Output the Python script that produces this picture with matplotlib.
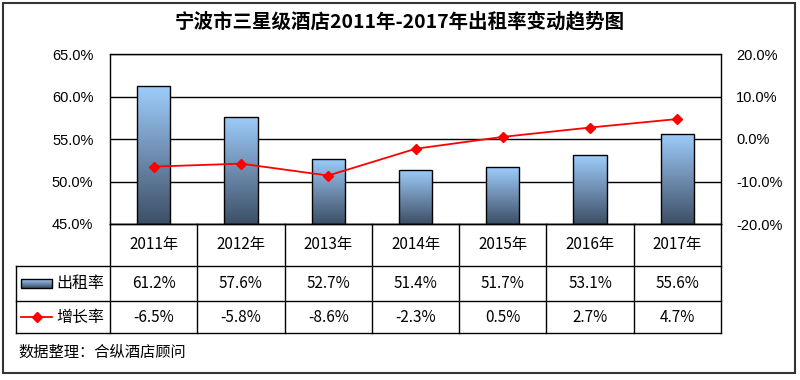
import matplotlib
matplotlib.use("Agg")
import matplotlib.pyplot as plt
import numpy as np
from matplotlib.patches import Rectangle
from matplotlib.colors import LinearSegmentedColormap

plt.rcParams['font.family'] = ['Noto Sans CJK SC', 'DejaVu Sans']

title = "宁波市三星级酒店2011年-2017年出租率变动趋势图"
categories = ["2011年", "2012年", "2013年", "2014年", "2015年", "2016年", "2017年"]
occupancy = [61.2, 57.6, 52.7, 51.4, 51.7, 53.1, 55.6]
growth = [-6.5, -5.8, -8.6, -2.3, 0.5, 2.7, 4.7]
series_names = ["出租率", "增长率"]
left_ticks = [45, 50, 55, 60, 65]
right_ticks = [-20, -10, 0, 10, 20]
source = "数据整理：合纵酒店顾问"

W, H = 800, 380
fig = plt.figure(figsize=(W / 100, H / 100), dpi=100)

def fx(px):
    return px / W

def fy(py):
    return 1 - py / H

# plot area
L, R, T, B = 110, 721, 54, 224
ax = fig.add_axes([fx(L), fy(B), fx(R - L), (B - T) / H])
n = len(categories)
x = np.arange(n)
ax.set_xlim(-0.5, n - 0.5)
ax.set_ylim(45, 65)
ax.set_yticks(left_ticks)
ax.set_yticklabels([f"{v:.1f}%" for v in left_ticks], family=['Liberation Sans'], fontsize=10.5)
ax.set_xticks([])
ax.tick_params(axis='y', length=0, pad=12)
for s in ax.spines.values():
    s.set_color('black')
    s.set_linewidth(1.0)
ax.grid(axis='y', color='black', linewidth=1.0)
ax.set_axisbelow(True)

cmap = LinearSegmentedColormap.from_list("g", ["#3c4f66", "#6f8db0", "#9dcdfc"])
bw = 0.38
bars = ax.bar(x, [v - 45 for v in occupancy], bottom=45, width=bw,
              facecolor='none', edgecolor='black', linewidth=1.0, zorder=3)
grad = np.linspace(0, 1, 256).reshape(-1, 1)
for b in bars:
    x0, y0 = b.get_x(), b.get_y()
    w, h = b.get_width(), b.get_height()
    im = ax.imshow(grad, cmap=cmap, aspect='auto', origin='lower',
                   extent=[x0, x0 + w, y0, y0 + h], zorder=2)
    im.set_clip_path(b)
ax.set_xlim(-0.5, n - 0.5)
ax.set_ylim(45, 65)

ax2 = ax.twinx()
ax2.set_ylim(-20, 20)
ax2.set_yticks(right_ticks)
ax2.set_yticklabels([f"{v:.1f}%" for v in right_ticks], family=['Liberation Sans'], fontsize=10.5)
ax2.tick_params(axis='y', length=0, pad=11)
for s in ax2.spines.values():
    s.set_visible(False)
ax2.plot(x, growth, color='#ff0000', linewidth=1.3, marker='D', markersize=5.5,
         markeredgecolor='#ff0000', zorder=5)

# overlay for table and frame
ov = fig.add_axes([0, 0, 1, 1])
ov.set_xlim(0, W)
ov.set_ylim(H, 0)
ov.axis('off')

# outer frame
ov.add_patch(Rectangle((3, 3), 792, 370, fill=False, edgecolor='#333333', linewidth=1.5))
ov.text(W / 2, 22, title, ha='center', va='center', fontsize=14, fontweight='bold')

# table
row_y = [224, 266, 301, 333]
col_w = (R - L) / n
tl = 16
lw = 1.0
for i in range(n + 1):
    xx = L + i * col_w
    ov.plot([xx, xx], [row_y[0], row_y[3]], color='black', linewidth=lw)
ov.plot([tl, tl], [row_y[1], row_y[3]], color='black', linewidth=lw)
ov.plot([L, R], [row_y[0], row_y[0]], color='black', linewidth=lw)
for yy in row_y[1:]:
    ov.plot([tl, R], [yy, yy], color='black', linewidth=lw)

for i, c in enumerate(categories):
    cx = L + (i + 0.5) * col_w
    ov.text(cx, (row_y[0] + row_y[1]) / 2, c, ha='center', va='center', fontsize=11)
    ov.text(cx, (row_y[1] + row_y[2]) / 2, f"{occupancy[i]:.1f}%", ha='center', va='center', fontsize=11)
    ov.text(cx, (row_y[2] + row_y[3]) / 2, f"{growth[i]:.1f}%", ha='center', va='center', fontsize=11)

# legend keys
ky1 = (row_y[1] + row_y[2]) / 2
key = Rectangle((21, ky1 - 4.5), 31, 9, edgecolor='black', linewidth=1.0, facecolor='none', zorder=3)
ov.add_patch(key)
kim = ov.imshow(grad[::-1], cmap=cmap, aspect='auto', extent=[21, 52, ky1 + 4.5, ky1 - 4.5], zorder=2)
kim.set_clip_path(key)
ov.set_xlim(0, W)
ov.set_ylim(H, 0)
ov.text(56, ky1, series_names[0], ha='left', va='center', fontsize=11.5)
ky2 = (row_y[2] + row_y[3]) / 2
ov.plot([21, 52], [ky2, ky2], color='#ff0000', linewidth=1.3)
ov.plot([37], [ky2], marker='D', color='#ff0000', markersize=5)
ov.text(56, ky2, series_names[1], ha='left', va='center', fontsize=11.5)

ov.text(18, 352, source, ha='left', va='center', fontsize=11)

fig.savefig("out.png", dpi=100)
